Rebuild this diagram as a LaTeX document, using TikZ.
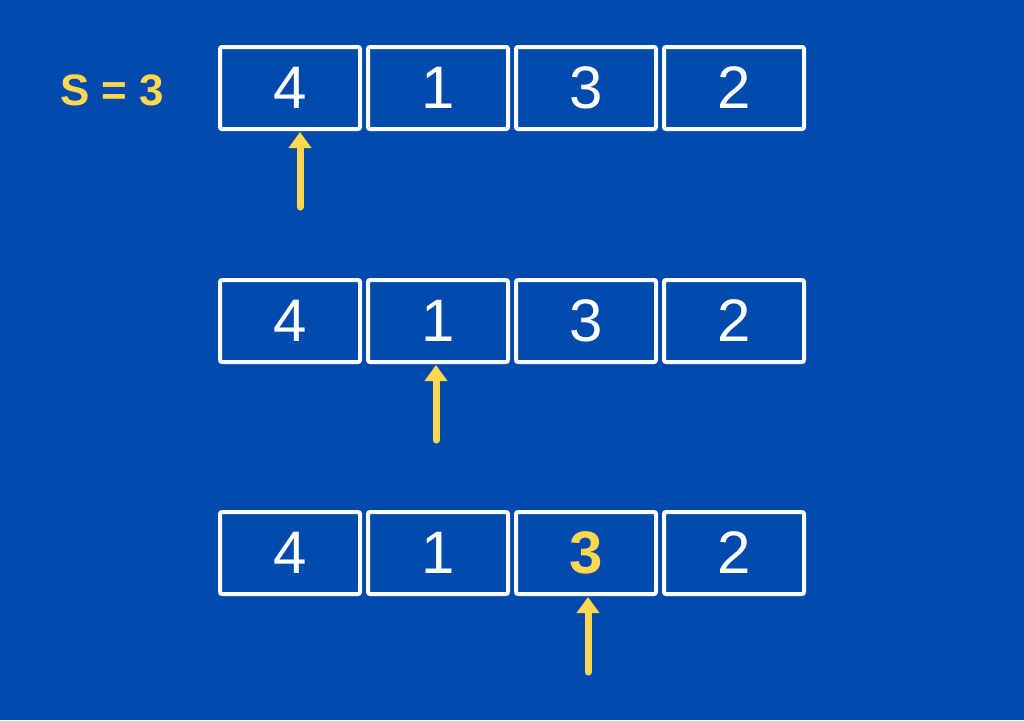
\documentclass[tikz,border=0pt]{standalone}
\usepackage{fontspec}
\setmainfont{Liberation Sans}
\usepackage{xcolor}
\usetikzlibrary{arrows.meta, positioning}

\definecolor{bgblue}{HTML}{004AAD}
\definecolor{ptryellow}{HTML}{FFD84F}

\begin{document}
\begin{tikzpicture}[
    x=1pt, y=-1pt,
    every node/.style={font=\fontsize{60}{60}\selectfont, text=white},
    % Cell styles
    cell/.style={rectangle, rounded corners=2pt, draw=white, line width=4pt, fill=bgblue, minimum width=140pt, minimum height=82pt, inner sep=0pt},
    found/.style={text=ptryellow, font=\fontsize{60}{60}\selectfont\bfseries},
    % Arrow styles
    pointer/.style={-{Triangle[width=22pt,length=16pt]}, line width=7pt, line cap=round, draw=ptryellow, shorten >=1pt},
    sumlabel/.style={font=\fontsize{44}{44}\selectfont\bfseries, text=ptryellow}
]

% Background
\fill[bgblue] (0,0) rectangle (1024,720);
\useasboundingbox (0,0) rectangle (1024,720);

% Target sum
\node[sumlabel] (target) at (112,90) {S = 3};

% Array rows
\foreach \row/\ycen in {1/88, 2/321, 3/553} {
    \node[cell] (r\row c1) at (290,\ycen) {4};
    \node[cell] (r\row c2) at (438,\ycen) {1};
    \node[cell] (r\row c4) at (734,\ycen) {2};
}
\node[cell] (r1c3) at (586,88) {3};
\node[cell] (r2c3) at (586,321) {3};
\node[cell, found] (r3c3) at (586,553) {3};

% Pointers
\coordinate (tail1) at (300,207);
\coordinate (tail2) at (436,440);
\coordinate (tail3) at (588,672);
\draw[pointer] (tail1) -- (tail1 |- r1c1.south);
\draw[pointer] (tail2) -- (tail2 |- r2c2.south);
\draw[pointer] (tail3) -- (tail3 |- r3c3.south);

\end{tikzpicture}
\end{document}
